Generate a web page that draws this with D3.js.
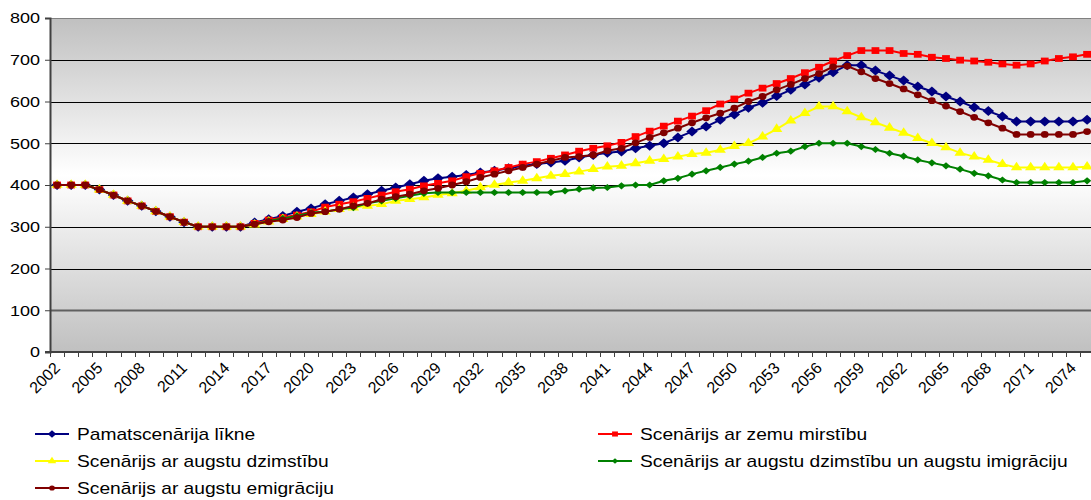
<!DOCTYPE html>
<html>
<head>
<meta charset="utf-8">
<script src="https://cdn.jsdelivr.net/npm/d3@7"></script>
<style>
  html, body { margin: 0; padding: 0; background: #ffffff; }
  svg { display: block; font-family: "Liberation Sans", Arial, sans-serif; }
</style>
</head>
<body>
<svg id="chart" width="1091" height="500"></svg>
<script>
// Years on the category axis
const years = d3.range(2002, 2076);
// Labelled years (every third category)
const tickYears = d3.range(2002, 2076, 3);
const yTicks = [0, 100, 200, 300, 400, 500, 600, 700, 800];

const seriesNames = [
  "Pamatscenārija līkne",
  "Scenārijs ar zemu mirstību",
  "Scenārijs ar augstu dzimstību",
  "Scenārijs ar augstu dzimstību un augstu imigrāciju",
  "Scenārijs ar augstu emigrāciju"
];

const base = [
  400, 400, 400, 389, 376, 362, 350, 337, 324, 311, 300, 300, 300, 300,
  310, 318, 326, 336, 344, 354, 362, 370, 378, 386, 394, 402, 410, 416,
  420, 424, 430, 434, 440, 446, 450, 454, 458, 466, 472, 477, 480, 488,
  494, 500, 514, 528, 540, 556, 569, 585, 597, 613, 628, 641, 657, 670,
  687, 687, 674, 662, 650, 636, 624, 612, 600, 586, 577, 564, 552, 552,
  552, 552, 552, 556
];
const lowMortality = [
  400, 400, 400, 389, 376, 362, 350, 337, 324, 311, 300, 300, 300, 300,
  308, 316, 322, 328, 336, 347, 354, 360, 368, 376, 384, 390, 398, 404,
  410, 420, 428, 434, 442, 450, 456, 464, 472, 481, 488, 494, 502, 516,
  529, 541, 553, 565, 578, 594, 606, 620, 632, 643, 655, 669, 682, 697,
  710, 722, 722, 722, 715, 713, 706, 703, 699, 697, 694, 690, 687, 690,
  697, 703, 707, 713
];
const highBirth = [
  400, 400, 400, 389, 376, 362, 350, 337, 324, 311, 300, 300, 300, 300,
  305, 312, 318, 324, 330, 336, 342, 346, 350, 354, 362, 366, 370, 376,
  380, 386, 394, 400, 406, 410, 416, 422, 426, 432, 438, 444, 446, 452,
  458, 462, 468, 474, 477, 484, 493, 500, 516, 534, 554, 572, 588, 588,
  576, 562, 550, 537, 525, 512, 500, 490, 477, 468, 460, 450, 442, 442,
  442, 442, 442, 444
];
const highBirthImmig = [
  400, 400, 400, 389, 376, 362, 350, 337, 324, 311, 300, 300, 300, 300,
  306, 314, 320, 326, 334, 336, 342, 346, 356, 362, 368, 374, 380, 382,
  382, 382, 382, 382, 382, 382, 382, 382, 386, 390, 393, 394, 398, 400,
  400, 410, 416, 426, 434, 442, 450, 457, 466, 476, 481, 492, 500, 500,
  500, 492, 485, 476, 469, 460, 453, 446, 438, 428, 422, 412, 406, 406,
  406, 406, 406, 410
];
const highEmig = [
  400, 400, 400, 389, 376, 362, 350, 337, 324, 311, 300, 300, 300, 300,
  306, 312, 316, 322, 332, 336, 342, 350, 356, 366, 372, 378, 386, 392,
  400, 408, 418, 426, 434, 442, 450, 458, 466, 468, 472, 482, 488, 501,
  514, 525, 536, 549, 561, 572, 584, 600, 612, 628, 641, 655, 667, 683,
  685, 671, 655, 643, 630, 616, 602, 589, 576, 562, 549, 536, 521, 521,
  521, 521, 521, 528
];

const seriesValues = [base, lowMortality, highBirth, highBirthImmig, highEmig];
const seriesColors = ["#000080", "#ff0000", "#ffff00", "#008000", "#800000"];

const svg = d3.select("#chart");
const plotLeft = 50, plotTop = 18, plotBottom = 352, step = 14.11;
const plotRight = plotLeft + years.length * step;
// Text in this chart is set slightly wide
const stretch = 1.2;

const x = d3.scaleBand().domain(years).range([plotLeft, plotRight]);
const y = d3.scaleLinear().domain([0, 800]).range([plotBottom, plotTop]);
const cx = yr => x(yr) + x.bandwidth() / 2;

// Plot-area background: grey at the edges, white through the middle
const defs = svg.append("defs");
const grad = defs.append("linearGradient").attr("id", "plotBg")
  .attr("x1", 0).attr("y1", 0).attr("x2", 0).attr("y2", 1);
grad.append("stop").attr("offset", "0%").attr("stop-color", "#c0c0c0");
grad.append("stop").attr("offset", "47%").attr("stop-color", "#ffffff");
grad.append("stop").attr("offset", "100%").attr("stop-color", "#c0c0c0");

svg.append("rect")
  .attr("x", plotLeft).attr("y", plotTop)
  .attr("width", plotRight - plotLeft).attr("height", plotBottom - plotTop)
  .attr("fill", "url(#plotBg)");

// Horizontal gridlines
svg.append("g").selectAll("line")
  .data(yTicks.filter(v => v > 0))
  .join("line")
  .attr("x1", plotLeft).attr("x2", plotRight)
  .attr("y1", v => Math.round(y(v)) + 0.5).attr("y2", v => Math.round(y(v)) + 0.5)
  .attr("stroke", v => v === 800 ? "#808080" : (v === 100 ? "#606060" : "#000000"))
  .attr("stroke-width", v => v === 100 ? 2 : 1);

// Y axis
const yAxis = d3.axisLeft(y).tickValues(yTicks).tickSize(5).tickPadding(5);
const gy = svg.append("g").attr("transform", `translate(${plotLeft},0)`).call(yAxis);
gy.attr("font-size", null).attr("font-family", null);
gy.select(".domain").attr("stroke", "#404040").attr("stroke-width", 2);
gy.selectAll(".tick line").attr("stroke", "#404040");
gy.selectAll(".tick text")
  .style("font-size", "15px").attr("fill", "#000")
  .attr("x", -10 / stretch)
  .attr("transform", `scale(${stretch},1)`);

// X axis line and category boundary ticks
const gx = svg.append("g");
gx.append("line")
  .attr("x1", plotLeft - 5).attr("x2", plotRight)
  .attr("y1", plotBottom).attr("y2", plotBottom)
  .attr("stroke", "#404040").attr("stroke-width", 2);
gx.selectAll("line.tk")
  .data(years)
  .join("line").attr("class", "tk")
  .attr("x1", d => Math.round(x(d)) + 0.5).attr("x2", d => Math.round(x(d)) + 0.5)
  .attr("y1", plotBottom).attr("y2", plotBottom + 5)
  .attr("stroke", "#404040");
gx.selectAll("text")
  .data(tickYears)
  .join("text")
  .attr("transform", d => `translate(${cx(d) - 4},${plotBottom + 9}) rotate(-45)`)
  .attr("text-anchor", "end")
  .attr("dy", "0.71em")
  .style("font-size", "16px")
  .text(d => d);

// Marker shapes per series: [symbol type, area, rotation]
const markerSpec = [
  [d3.symbolSquare, 50, 45],
  [d3.symbolSquare, 46, 0],
  [d3.symbolTriangle, 42, 0],
  [d3.symbolSquare, 26, 45],
  [d3.symbolCircle, 36, 0]
];
const markerPath = (i, s) => d3.symbol(markerSpec[i][0], markerSpec[i][1] * s * s)();

const line = d3.line().x((d, j) => cx(years[j])).y(d => y(d));

const plot = svg.append("g");
seriesValues.forEach((vals, i) => {
  const g = plot.append("g");
  g.append("path")
    .datum(vals)
    .attr("d", line)
    .attr("fill", "none")
    .attr("stroke", seriesColors[i])
    .attr("stroke-width", 2);
  g.selectAll("path.m")
    .data(vals)
    .join("path").attr("class", "m")
    .attr("d", markerPath(i, 1))
    .attr("transform", (d, j) => `translate(${cx(years[j])},${y(d)}) scale(1.15,1) rotate(${markerSpec[i][2]})`)
    .attr("fill", seriesColors[i]);
});

// Legend: two columns, filled row by row
const legend = svg.append("g");
const legendPos = [
  [35, 434], [598, 434],
  [35, 461], [598, 461],
  [35, 488]
];
seriesNames.forEach((name, i) => {
  const [lx, ly] = legendPos[i];
  const g = legend.append("g").attr("transform", `translate(${lx},${ly})`);
  g.append("line").attr("x1", 0).attr("x2", 34).attr("y1", 0).attr("y2", 0)
    .attr("stroke", seriesColors[i]).attr("stroke-width", 2);
  g.append("path")
    .attr("d", markerPath(i, 0.75))
    .attr("transform", `translate(17,0) scale(1.15,1) rotate(${markerSpec[i][2]})`)
    .attr("fill", seriesColors[i]);
  g.append("text")
    .attr("transform", `translate(42,0) scale(${stretch},1)`)
    .attr("dy", "0.35em")
    .style("font-size", "16px")
    .text(name);
});
</script>
</body>
</html>
